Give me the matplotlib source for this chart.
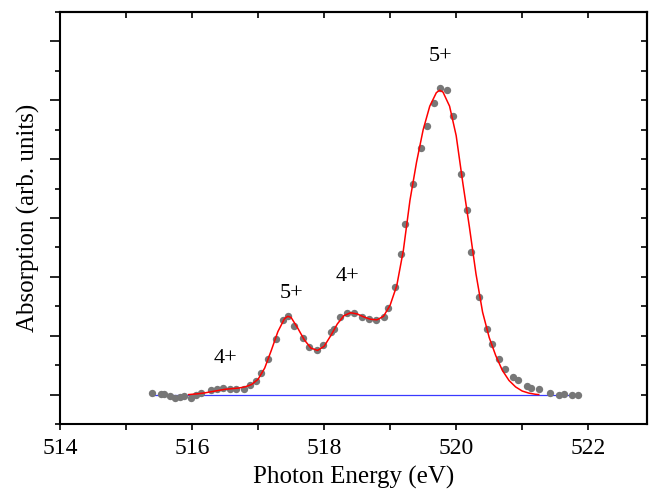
import numpy as np
import matplotlib.pyplot as plt
from matplotlib.ticker import MultipleLocator, NullFormatter

# measured points (photon energy in eV, absorption in arb. units)
energy = [515.39, 515.53, 515.58, 515.67, 515.74, 515.81, 515.88, 515.98, 516.06, 516.14,
          516.28, 516.38, 516.47, 516.57, 516.66, 516.78, 516.88, 516.97, 517.05, 517.15,
          517.27, 517.38, 517.46, 517.55, 517.68, 517.77, 517.89, 517.98, 518.11, 518.15,
          518.24, 518.34, 518.45, 518.57, 518.68, 518.78, 518.90, 518.97, 519.08, 519.16,
          519.23, 519.34, 519.47, 519.56, 519.66, 519.75, 519.86, 519.95, 520.07, 520.17,
          520.23, 520.34, 520.47, 520.54, 520.65, 520.74, 520.86, 520.93, 521.07, 521.14,
          521.26, 521.42, 521.56, 521.64, 521.75, 521.85]
absorption = [0.02, 0.01, 0.005, -0.03, -0.05, -0.04, -0.03, -0.05, -0.01, 0.02,
              0.08, 0.10, 0.11, 0.10, 0.09, 0.10, 0.17, 0.23, 0.36, 0.60,
              0.94, 1.27, 1.34, 1.16, 0.96, 0.80, 0.76, 0.85, 1.07, 1.12,
              1.32, 1.39, 1.39, 1.31, 1.29, 1.27, 1.32, 1.47, 1.82, 2.38,
              2.89, 3.57, 4.19, 4.56, 4.96, 5.21, 5.18, 4.73, 3.75, 3.13,
              2.42, 1.65, 1.12, 0.86, 0.60, 0.43, 0.30, 0.25, 0.15, 0.12,
              0.09, 0.03, -0.01, 0.005, -0.005, -0.005]

# fitted curve
fit_energy = [515.95, 516.0, 516.1, 516.2, 516.3, 516.4, 516.5, 516.6, 516.7, 516.8,
              516.9, 517.0, 517.1, 517.2, 517.3, 517.4, 517.45, 517.5, 517.6, 517.7,
              517.8, 517.9, 518.0, 518.1, 518.2, 518.3, 518.4, 518.5, 518.6, 518.7,
              518.8, 518.9, 519.0, 519.1, 519.2, 519.3, 519.4, 519.5, 519.6, 519.7,
              519.75, 519.8, 519.9, 520.0, 520.1, 520.2, 520.3, 520.4, 520.5, 520.6,
              520.7, 520.8, 520.9, 521.0, 521.1, 521.2, 521.25]
fit_abs = [0.0, 0.005, 0.015, 0.03, 0.05, 0.07, 0.09, 0.10, 0.11, 0.13,
           0.17, 0.26, 0.45, 0.75, 1.07, 1.29, 1.33, 1.31, 1.13, 0.93,
           0.79, 0.75, 0.82, 1.00, 1.20, 1.34, 1.39, 1.37, 1.32, 1.28,
           1.27, 1.33, 1.52, 1.85, 2.45, 3.30, 3.95, 4.50, 4.90, 5.13,
           5.17, 5.14, 4.90, 4.40, 3.60, 2.85, 2.05, 1.40, 0.97, 0.66,
           0.41, 0.24, 0.13, 0.06, 0.025, 0.005, 0.0]

baseline_x = [515.39, 521.88]
baseline_y = [0, 0]

peak_labels = ['4+', '5+', '4+', '5+']
label_x = [516.5, 517.5, 518.36, 519.77]
label_y = [0.61, 1.72, 2.0, 5.75]

plt.rcParams['font.family'] = ['Liberation Serif', 'DejaVu Serif']

fig = plt.figure(figsize=(6.49, 4.91), dpi=100)
ax = fig.add_axes([60 / 649, 1 - 424 / 491, 587 / 649, 412 / 491])

ax.plot(baseline_x, baseline_y, color='#3a3aff', lw=0.9, zorder=1)
ax.plot(energy, absorption, 'o', color='#777777', ms=5.3, mec='none', zorder=2)
ax.plot(fit_energy, fit_abs, color='red', lw=1.1, zorder=3)

for lab, lx, ly in zip(peak_labels, label_x, label_y):
    ax.text(lx, ly, lab, fontsize=16, ha='center', va='center')

ax.set_xlim(514, 522.89)
ax.set_ylim(-0.5, 6.5)
ax.xaxis.set_major_locator(MultipleLocator(2))
ax.xaxis.set_minor_locator(MultipleLocator(1))
ax.yaxis.set_major_locator(MultipleLocator(1))
ax.yaxis.set_minor_locator(MultipleLocator(0.5))
ax.yaxis.set_major_formatter(NullFormatter())

ax.tick_params(axis='x', which='both', direction='out', labelsize=17, length=4, width=1.2, pad=6)
ax.tick_params(axis='y', which='major', direction='out', length=7, width=1.2)
ax.tick_params(axis='y', which='minor', direction='out', length=3.5, width=1.2)
ax.tick_params(which='both', top=False, right=False)

# inward ticks on top and right edges
ax_top = ax.secondary_xaxis('top')
ax_top.xaxis.set_major_locator(MultipleLocator(1))
ax_top.tick_params(direction='in', length=4, width=1.2, labelsize=0)
ax_top.xaxis.set_major_formatter(NullFormatter())
ax_right = ax.secondary_yaxis('right')
ax_right.yaxis.set_major_locator(MultipleLocator(0.5))
ax_right.tick_params(direction='in', length=4, width=1.2)
ax_right.yaxis.set_major_formatter(NullFormatter())

for s in ax.spines.values():
    s.set_linewidth(1.5)
ax_top.spines['top'].set_linewidth(1.5)
ax_right.spines['right'].set_linewidth(1.5)

ax.set_xlabel('Photon Energy (eV)', fontsize=18, labelpad=5)
ax.set_ylabel('Absorption (arb. units)', fontsize=18, labelpad=4)

plt.savefig('out.png', dpi=100)
